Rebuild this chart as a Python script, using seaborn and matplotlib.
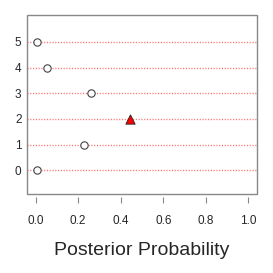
import numpy as np
import pandas as pd
import seaborn as sns
import matplotlib.pyplot as plt
from matplotlib.patches import Rectangle

# values
counts = [0, 1, 2, 3, 4, 5]
posterior = [0.008, 0.228, 0.445, 0.26, 0.055, 0.008]
xticks = [0.0, 0.2, 0.4, 0.6, 0.8, 1.0]
xtick_labels = ['0.0', '0.2', '0.4', '0.6', '0.8', '1.0']

df = pd.DataFrame({'count': counts, 'prob': posterior})
df['mode'] = df['prob'] == df['prob'].max()

sns.set_style('white')
plt.rcParams['font.family'] = ['Liberation Sans', 'DejaVu Sans']

fig = plt.figure(figsize=(2.73, 2.73), dpi=100)
ax = fig.add_axes([27/273, 79/273, 230/273, 179/273])

# reference lines
for c in counts:
    ax.axhline(c, color='#ff7070', lw=1.0, ls=(0, (0.8, 1.2)), zorder=1)

others = df[~df['mode']]
best = df[df['mode']]
sns.scatterplot(x='prob', y='count', data=others, ax=ax, marker='o', s=28,
                facecolor='white', edgecolor='#444444', linewidth=0.8, zorder=3)
sns.scatterplot(x='prob', y='count', data=best, ax=ax, marker='^', s=45,
                color='red', edgecolor='#222222', linewidth=0.6, zorder=3)

ax.set_xlim(-0.04, 1.04)
ax.set_ylim(-0.93, 6.05)
ax.set_xticks(xticks)
ax.set_xticklabels(xtick_labels)
ax.set_yticks(counts)
ax.set_yticklabels([str(c) for c in counts])

for s in ax.spines.values():
    s.set_visible(False)
ax.spines['bottom'].set_position(('outward', 2))
ax.add_patch(Rectangle((0, 0), 1, 1, transform=ax.transAxes, fill=False,
                       edgecolor='#888888', lw=1, clip_on=False, zorder=5))

ax.tick_params(axis='x', direction='out', length=4, width=0.8, color='#888888',
               labelsize=8.5, pad=9, bottom=True)
ax.tick_params(axis='y', length=0, labelsize=8.5, pad=4)
ax.set_xlabel('Posterior Probability', fontsize=14, labelpad=11)
ax.set_ylabel('')

fig.savefig('out.png', dpi=100)
